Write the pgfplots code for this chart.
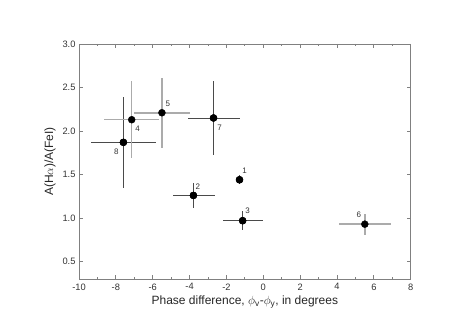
\documentclass[border=0pt]{standalone}
\usepackage{fontspec}
\setmainfont{Liberation Sans}
\usepackage{pgfplots}
\pgfplotsset{compat=1.18}
\usepackage{pgfplotstable}
\definecolor{darkbar}{HTML}{4A4A4A}
\definecolor{lightbar}{HTML}{ABABAB}
\definecolor{axgray}{HTML}{808080}

\pgfplotstableread{
x y xm xp ym yp
-1.29 1.44 0.17 0.17 0.05 0.05
-3.79 1.26 1.12 1.18 0.14 0.14
-1.12 0.97 1.09 1.10 0.11 0.11
-2.70 2.15 1.41 1.45 0.42 0.42
-7.59 1.87 1.74 1.76 0.52 0.52
}\darkdata
\pgfplotstableread{
x y xm xp ym yp
-7.14 2.13 1.48 1.50 0.44 0.44
-5.50 2.21 1.50 1.50 0.41 0.40
5.51 0.93 1.40 1.40 0.125 0.12
}\lightdata

\begin{document}
\begin{tikzpicture}[font=\fontsize{12bp}{14bp}\selectfont]
\begin{axis}[
  scale only axis,
  width=331.7bp, height=235bp,
  xmin=-10, xmax=8, ymin=0.3, ymax=3.0,
  xtick={-10,-8,...,8},
  minor xtick={-9,-7,...,7},
  ytick={0.5,1.0,...,3.0},
  yticklabel style={/pgf/number format/.cd,fixed,fixed zerofill,precision=1},
  /pgf/number format/assume math mode=true,
  tick align=inside,
  major tick length=4bp, minor tick length=2.5bp,
  axis line style={axgray, line width=0.8bp},
  every tick/.style={axgray, line width=0.8bp},
  tick label style={font=\fontsize{9.3bp}{11bp}\selectfont, text=black!80},
  xticklabel style={yshift=-1bp},
  xlabel={Phase difference, $\phi_{\mathrm{v}}$-$\phi_{\mathrm{y}}$, in degrees},
  ylabel={A(H$\alpha$)/A(FeI)},
  xlabel style={yshift=1bp, text=black!85},
  ylabel style={text=black!85},
  clip=false,
]
\addplot[only marks, mark=*, mark size=3.5bp, black,
  error bars/.cd, x dir=both, y dir=both, x explicit, y explicit,
  error mark=none, error bar style={darkbar, line width=0.9bp}]
  table[x=x, y=y, x error minus=xm, x error plus=xp, y error minus=ym, y error plus=yp] {\darkdata};
\addplot[only marks, mark=*, mark size=3.5bp, black,
  error bars/.cd, x dir=both, y dir=both, x explicit, y explicit,
  error mark=none, error bar style={lightbar, line width=1.5bp}]
  table[x=x, y=y, x error minus=xm, x error plus=xp, y error minus=ym, y error plus=yp] {\lightdata};
\addplot[only marks, mark=*, mark size=3.5bp, black] table[x=x,y=y] {\darkdata};

\begin{scope}[every node/.style={font=\fontsize{8bp}{9bp}\selectfont, text=black!80}]
\node at (axis cs:-1.29,1.44) [xshift=5bp, yshift=9bp] {1};
\node at (axis cs:-3.79,1.26) [xshift=4.5bp, yshift=8.5bp] {2};
\node at (axis cs:-1.12,0.97) [xshift=5bp, yshift=10bp] {3};
\node at (axis cs:-7.14,2.13) [xshift=6bp, yshift=-9bp] {4};
\node at (axis cs:-5.50,2.21) [xshift=6bp, yshift=9bp] {5};
\node at (axis cs:5.51,0.93) [xshift=-6bp, yshift=9bp] {6};
\node at (axis cs:-2.70,2.15) [xshift=6bp, yshift=-10bp] {7};
\node at (axis cs:-7.59,1.87) [xshift=-7bp, yshift=-9bp] {8};
\end{scope}
\end{axis}
\path[use as bounding box] ([shift={(-79bp,-55.1bp)}]current axis.south west) rectangle ([shift={(63.3bp,44bp)}]current axis.north east);
\end{tikzpicture}
\end{document}
